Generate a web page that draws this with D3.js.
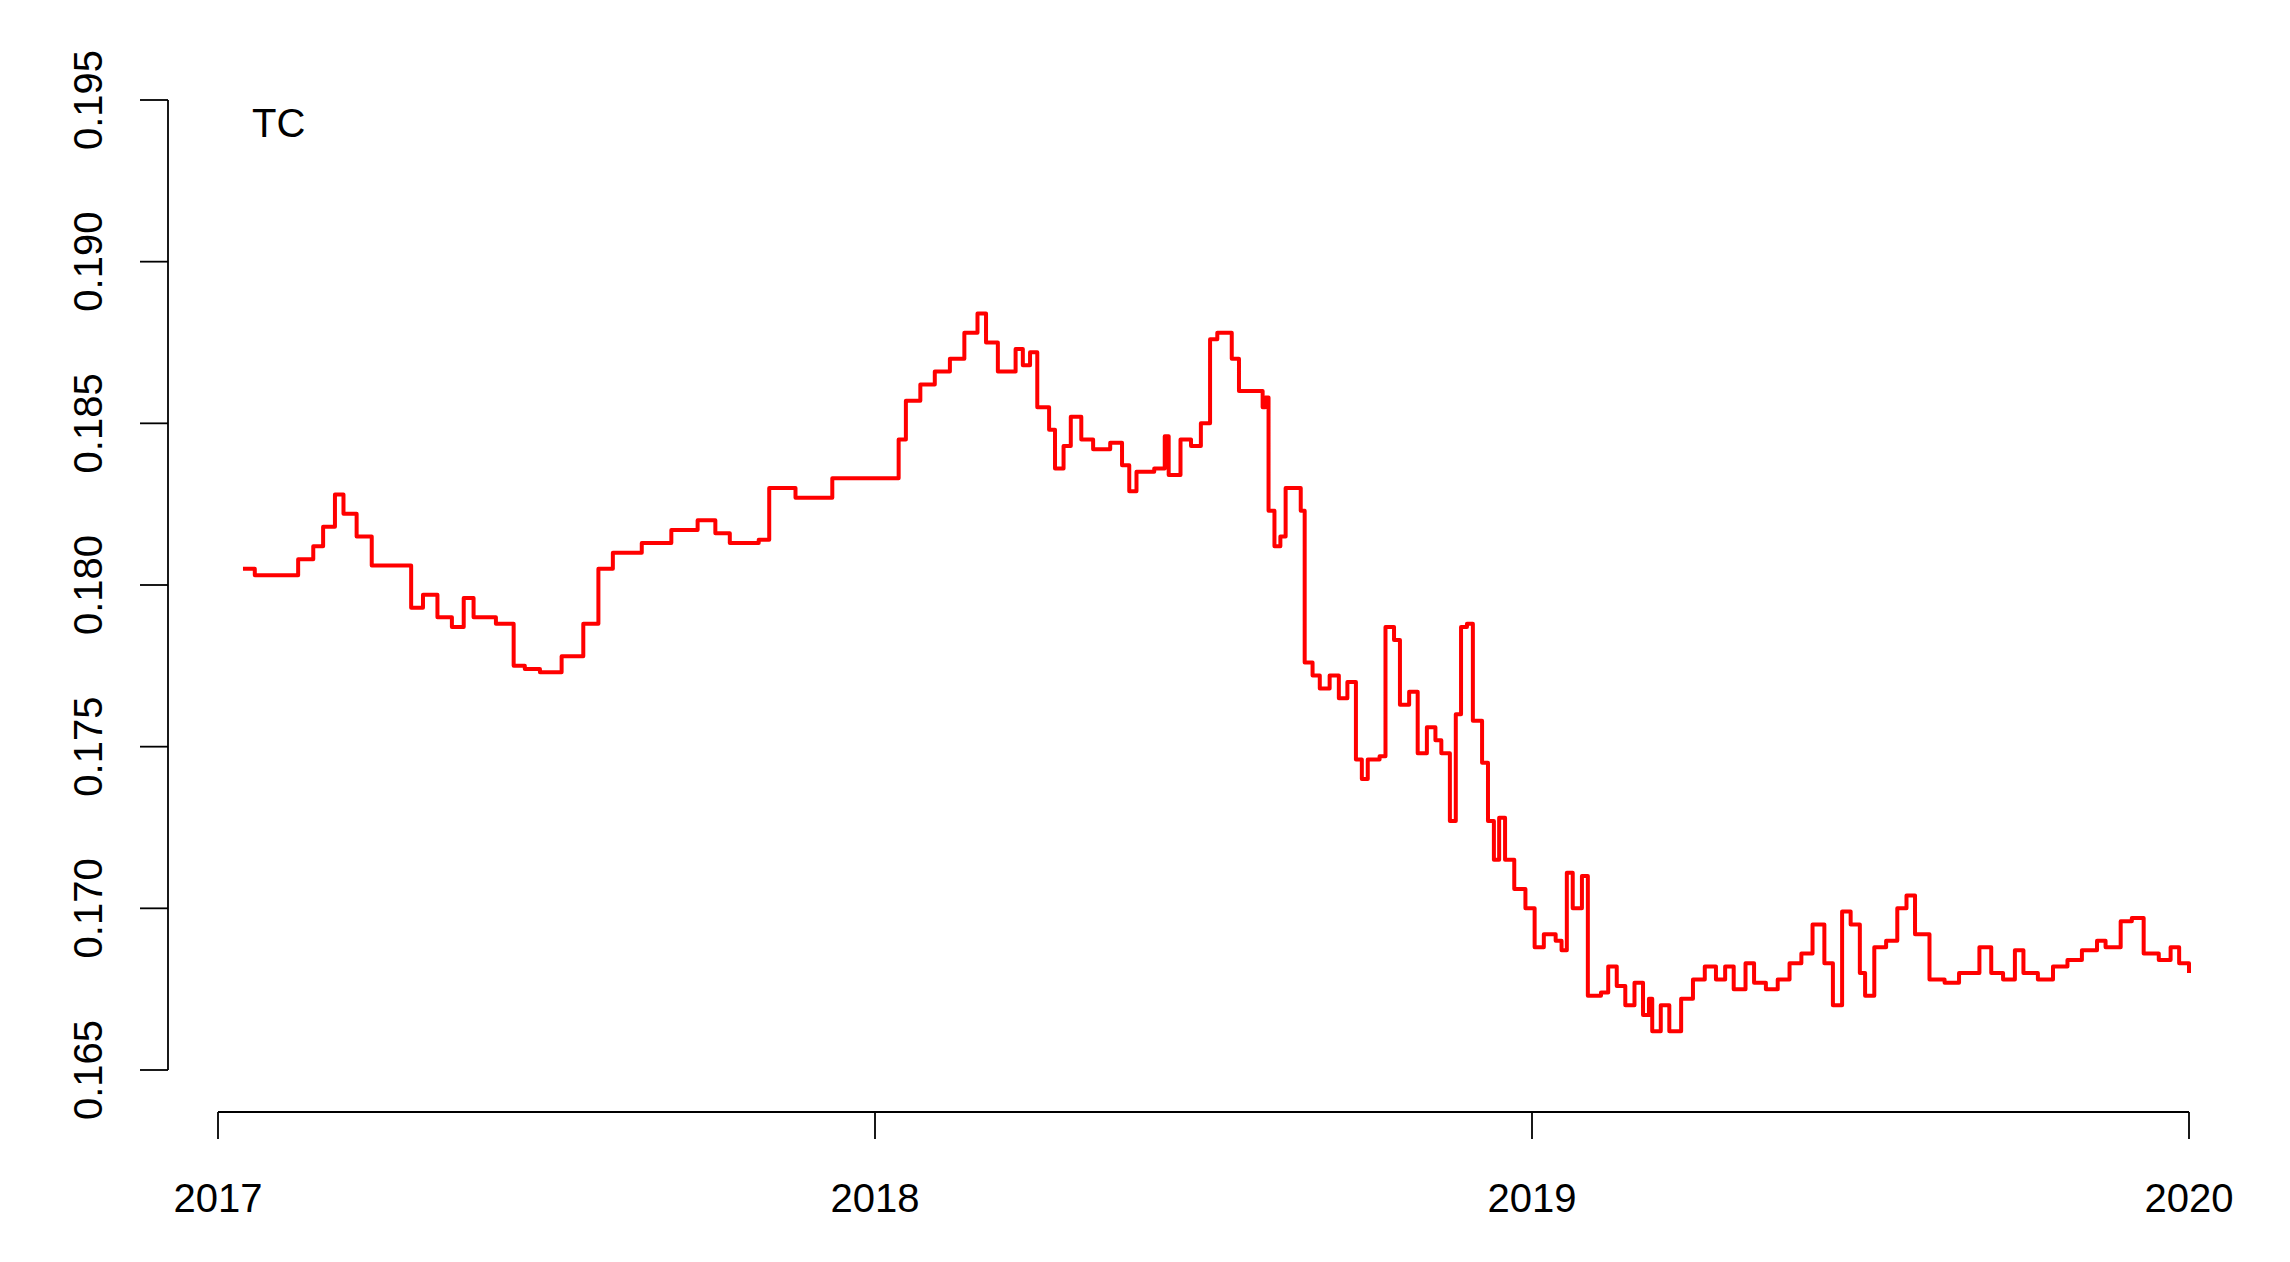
<!DOCTYPE html>
<html><head><meta charset="utf-8">
<script src="https://cdn.jsdelivr.net/npm/d3@7"></script>
<style>body{margin:0;background:#fff}text{font-family:"Liberation Sans",Arial,sans-serif}</style>
</head><body><svg id="vis" width="2290" height="1262"></svg>
<script>
// decimal years and TC values
years = [2017.038,2017.056,2017.100,2017.122,2017.145,2017.160,2017.178,2017.191,2017.211,2017.234,2017.278,2017.294,2017.312,2017.334,2017.356,2017.374,2017.389,2017.423,2017.445,2017.450,2017.467,2017.490,2017.523,2017.556,2017.579,2017.601,2017.645,2017.690,2017.730,2017.757,2017.779,2017.823,2017.839,2017.879,2017.935,2017.997,
2018.036,2018.047,2018.069,2018.091,2018.114,2018.136,2018.156,2018.169,2018.187,2018.214,2018.225,2018.236,2018.247,2018.265,2018.274,2018.287,2018.298,2018.314,2018.332,2018.358,2018.376,2018.387,2018.398,2018.425,2018.441,2018.447,2018.465,2018.481,2018.496,2018.510,2018.521,2018.543,2018.554,2018.581,2018.590,2018.594,2018.599,2018.608,2018.617,2018.625,2018.643,2018.648,2018.654,2018.666,2018.677,2018.692,2018.706,2018.719,2018.732,2018.741,2018.750,2018.768,2018.777,2018.790,2018.799,2018.813,2018.826,2018.840,2018.853,2018.862,2018.875,2018.884,2018.892,2018.901,2018.910,2018.924,2018.933,2018.942,2018.950,2018.959,2018.973,2018.990,
2019.004,2019.018,2019.036,2019.045,2019.053,2019.062,2019.076,2019.085,2019.105,2019.116,2019.129,2019.142,2019.156,2019.169,2019.178,2019.183,2019.196,2019.209,2019.227,2019.245,2019.263,2019.280,2019.294,2019.307,2019.325,2019.338,2019.356,2019.374,2019.392,2019.410,2019.427,2019.445,2019.458,2019.472,2019.485,2019.499,2019.507,2019.521,2019.539,2019.556,2019.570,2019.583,2019.605,2019.628,2019.650,2019.681,2019.699,2019.717,2019.735,2019.748,2019.770,2019.793,2019.815,2019.837,2019.860,2019.873,2019.896,2019.913,2019.931,2019.954,2019.972,2019.985,2020.000];
tc = [0.1805,0.1803,0.1803,0.1808,0.1812,0.1818,0.1828,0.1822,0.1815,0.1806,0.1806,0.1793,0.1797,0.1790,0.1787,0.1796,0.1790,0.1788,0.1788,0.1775,0.1774,0.1773,0.1778,0.1788,0.1805,0.1810,0.1813,0.1817,0.1820,0.1816,0.1813,0.1814,0.1830,0.1827,0.1833,0.1833,
0.1845,0.1857,0.1862,0.1866,0.1870,0.1878,0.1884,0.1875,0.1866,0.1873,0.1868,0.1872,0.1855,0.1848,0.1836,0.1843,0.1852,0.1845,0.1842,0.1844,0.1837,0.1829,0.1835,0.1836,0.1846,0.1834,0.1845,0.1843,0.1850,0.1876,0.1878,0.1870,0.1860,0.1860,0.1855,0.1858,0.1823,0.1812,0.1815,0.1830,0.1830,0.1823,0.1776,0.1772,0.1768,0.1772,0.1765,0.1770,0.1746,0.1740,0.1746,0.1747,0.1787,0.1783,0.1763,0.1767,0.1748,0.1756,0.1752,0.1748,0.1727,0.1760,0.1787,0.1788,0.1758,0.1745,0.1727,0.1715,0.1728,0.1715,0.1706,0.1700,
0.1688,0.1692,0.1690,0.1687,0.1711,0.1700,0.1710,0.1673,0.1674,0.1682,0.1676,0.1670,0.1677,0.1667,0.1672,0.1662,0.1670,0.1662,0.1672,0.1678,0.1682,0.1678,0.1682,0.1675,0.1683,0.1677,0.1675,0.1678,0.1683,0.1686,0.1695,0.1683,0.1670,0.1699,0.1695,0.1680,0.1673,0.1688,0.1690,0.1700,0.1704,0.1692,0.1678,0.1677,0.1680,0.1688,0.1680,0.1678,0.1687,0.1680,0.1678,0.1682,0.1684,0.1687,0.1690,0.1688,0.1696,0.1697,0.1686,0.1684,0.1688,0.1683,0.1680];
yTicks = [0.165,0.170,0.175,0.180,0.185,0.190,0.195];
xTicks = [2017,2018,2019,2020];
label = "TC";

svg = d3.select("#vis");
x = d3.scaleLinear().domain([2017,2020]).range([218,2189]);
y = d3.scaleLinear().domain([0.165,0.195]).range([1070,100]);

line = d3.line().curve(d3.curveStepAfter).x((d,i) => x(years[i])).y(d => y(d));
svg.append("path").datum(tc).attr("d", line)
    .attr("fill","none").attr("stroke","#ff0000").attr("stroke-width",4).attr("stroke-linejoin","round");

// y axis, R style
svg.append("line").attr("x1",168).attr("x2",168).attr("y1",y(0.195)).attr("y2",y(0.165)).attr("stroke","#000").attr("stroke-width",1.8);
yTicks.forEach(function(t){
    svg.append("line").attr("x1",140).attr("x2",168).attr("y1",y(t)).attr("y2",y(t)).attr("stroke","#000").attr("stroke-width",1.8);
    svg.append("text").attr("transform","translate(102,"+y(t)+") rotate(-90)")
        .attr("text-anchor","middle").attr("font-size",40).text(t.toFixed(3));
});
// x axis
svg.append("line").attr("x1",x(2017)).attr("x2",x(2020)).attr("y1",1112).attr("y2",1112).attr("stroke","#000").attr("stroke-width",1.8);
xTicks.forEach(function(t){
    svg.append("line").attr("x1",x(t)).attr("x2",x(t)).attr("y1",1112).attr("y2",1139).attr("stroke","#000").attr("stroke-width",1.8);
    svg.append("text").attr("x",x(t)).attr("y",1212).attr("text-anchor","middle").attr("font-size",40).text(t);
});
svg.append("text").attr("x",252).attr("y",137).attr("font-size",40).text(label);
</script></body></html>
